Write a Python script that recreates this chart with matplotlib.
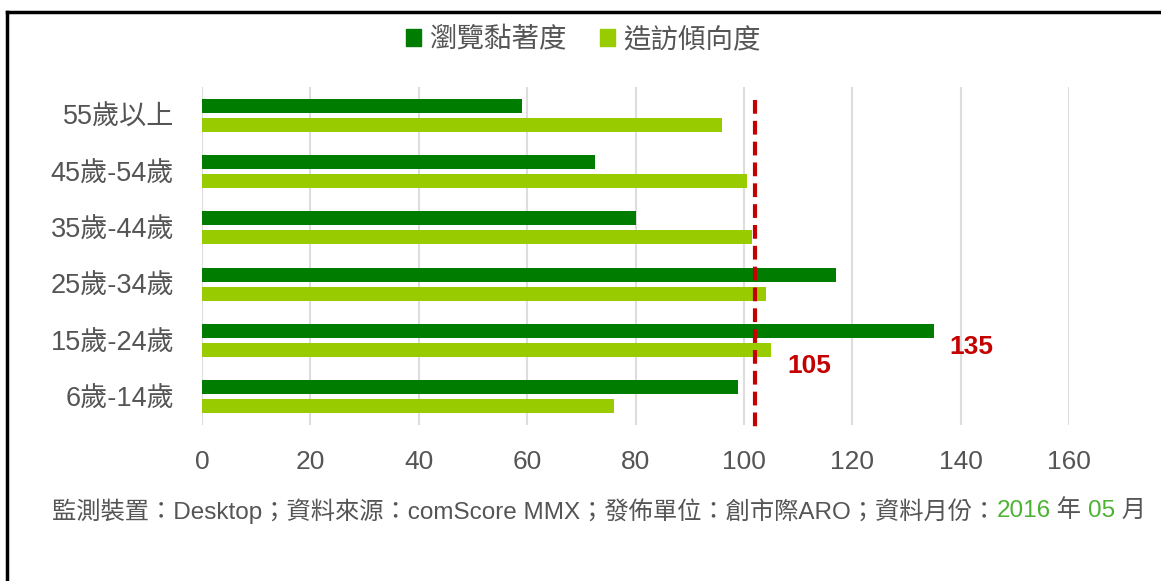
import numpy as np
import matplotlib
matplotlib.use("Agg")
from matplotlib import pyplot as plt
from matplotlib.patches import Patch
from matplotlib.lines import Line2D

plt.rcParams['font.family'] = ['Liberation Sans', 'Noto Sans CJK TC', 'DejaVu Sans']

categories = ["55歲以上", "45歲-54歲", "35歲-44歲", "25歲-34歲", "15歲-24歲", "6歲-14歲"]
stickiness = [59, 72.5, 80, 117, 135, 99]      # 瀏覽黏著度
tendency = [96, 100.5, 101.5, 104, 105, 76]    # 造訪傾向度
series_names = ["瀏覽黏著度", "造訪傾向度"]
ref_value = 102
xticks = [0, 20, 40, 60, 80, 100, 120, 140, 160]

footer_parts = [
    ("監測裝置：Desktop；資料來源：comScore MMX；發佈單位：創市際ARO；資料月份：", "#555555"),
    ("2016", "#4cb232"),
    (" 年 ", "#555555"),
    ("05", "#4cb232"),
    (" 月", "#555555"),
]

dark = "#007c00"
light = "#99cc00"
gray = "#555555"
red = "#c40000"

fig = plt.figure(figsize=(11.61, 5.81), dpi=100)
ax = fig.add_axes([202 / 1161, 1 - 425 / 581, 867 / 1161, 338 / 581])

y = np.arange(len(categories))
h = 0.245
ax.barh(y - 0.168, stickiness, height=h, color=dark, zorder=3)
ax.barh(y + 0.168, tendency, height=h, color=light, zorder=3)

ax.set_xlim(0, 160)
ax.set_ylim(len(categories) - 0.5, -0.5)
ax.set_xticks(xticks)
ax.set_yticks(y)
ax.set_yticklabels(categories)
ax.grid(axis="x", color="#dddddd", linewidth=1.5, zorder=0)
for s in ax.spines.values():
    s.set_visible(False)
ax.tick_params(length=0, colors=gray, pad=0)
ax.tick_params(axis="x", labelsize=19, pad=18)
ax.tick_params(axis="y", labelsize=19.5, pad=20)

# reference line
ax.plot([ref_value, ref_value], [-0.27, 5.55], color=red, linewidth=3,
        linestyle=(0, (3.3, 1.7)), zorder=4, clip_on=False)

# value labels for the 15-24 group
i = categories.index("15歲-24歲")
ax.annotate(f"{tendency[i]}", xy=(tendency[i], i + 0.168), xytext=(16, -16),
            textcoords="offset pixels", color=red, fontsize=19, fontweight="bold",
            ha="left", va="center", annotation_clip=False)
ax.annotate(f"{stickiness[i]}", xy=(stickiness[i], i - 0.168), xytext=(16, -16),
            textcoords="offset pixels", color=red, fontsize=19, fontweight="bold",
            ha="left", va="center", annotation_clip=False)

# legend
handles = [Patch(color=dark), Patch(color=light)]
fig.legend(handles, series_names, loc="center", bbox_to_anchor=(583 / 1161, 1 - 40 / 581),
           ncol=2, frameon=False, fontsize=19.8, handlelength=0.55, handleheight=0.55,
           handletextpad=0.3, columnspacing=1.2, labelcolor=gray)

# footer with coloured date
prev = fig.text(52 / 1161, 1 - 511 / 581, footer_parts[0][0], color=footer_parts[0][1],
                fontsize=17.5, ha="left", va="center")
for txt, col in footer_parts[1:]:
    prev = fig.add_artist(matplotlib.text.Annotation(
        txt, xy=(1, 0.5), xycoords=prev, va="center", ha="left",
        color=col, fontsize=17.5))

# frame lines
fig.add_artist(Line2D([7 / 1161, 1], [1 - 12 / 581, 1 - 12 / 581], color="black", linewidth=2.5))
fig.add_artist(Line2D([7 / 1161, 7 / 1161], [0, 1 - 12 / 581], color="black", linewidth=2.5))

fig.savefig("out.png", dpi=100)
